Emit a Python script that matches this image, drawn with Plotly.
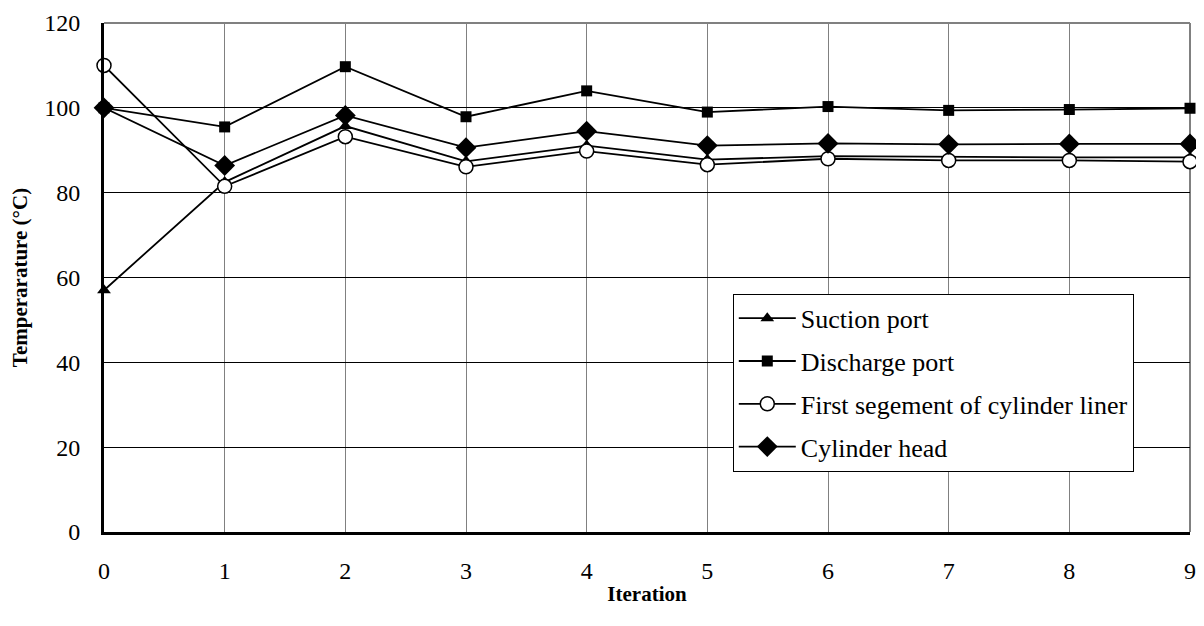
import plotly.graph_objects as go

iterations = [0, 1, 2, 3, 4, 5, 6, 7, 8, 9]
suction_port = [57, 82.5, 95.7, 87.4, 91.1, 87.8, 88.6, 88.4, 88.3, 88.3]
discharge_port = [100, 95.5, 109.7, 97.9, 104.0, 99.0, 100.3, 99.4, 99.6, 99.9]
first_segment = [110, 81.5, 93.2, 86.1, 89.8, 86.6, 88.0, 87.6, 87.6, 87.3]
cylinder_head = [100, 86.4, 98.2, 90.6, 94.5, 91.1, 91.6, 91.4, 91.5, 91.5]

x_ticks = list(range(0, 10))
y_ticks = [0, 20, 40, 60, 80, 100, 120]

FONT = "Liberation Serif"

fig = go.Figure()
series = [
    ("Suction port", suction_port, dict(symbol="triangle-up", size=12, color="black")),
    ("Discharge port", discharge_port, dict(symbol="square", size=11, color="black")),
    ("First segement of cylinder liner", first_segment,
     dict(symbol="circle", size=14, color="white", line=dict(color="black", width=1.5))),
    ("Cylinder head", cylinder_head, dict(symbol="diamond", size=16, color="black")),
]
for i, (name, vals, marker) in enumerate(series):
    fig.add_trace(go.Scatter(
        x=iterations, y=vals, name=name, mode="lines+markers", legendgroup=f"g{i}",
        line=dict(color="black", width=1.8), marker=marker, cliponaxis=False,
    ))

fig.update_layout(
    width=1196, height=618,
    margin=dict(l=96, r=14, t=15, b=94, autoexpand=False),
    paper_bgcolor="white", plot_bgcolor="white",
    font=dict(family=FONT, color="black", size=24),
    showlegend=True,
    legend=dict(
        x=0.579, y=0.468, xanchor="left", yanchor="top",
        bgcolor="white", bordercolor="black", borderwidth=1,
        font=dict(family=FONT, size=26, color="black"),
        tracegroupgap=6, itemwidth=57,
    ),
    xaxis=dict(
        range=[0, 9], tickvals=x_ticks, ticktext=[str(v) for v in x_ticks],
        showgrid=True, gridcolor="#808080", gridwidth=1,
        showline=True, linecolor="black", linewidth=3,
        zeroline=False, ticks="", ticklabelstandoff=15, automargin=False,
        tickfont=dict(family=FONT, size=24),
        title=dict(text="<b>Iteration</b>", font=dict(family=FONT, size=21), standoff=4),
    ),
    yaxis=dict(
        range=[0, 120], tickvals=y_ticks,
        showgrid=True, gridcolor="black", gridwidth=1,
        showline=True, linecolor="black", linewidth=3,
        zeroline=False, ticks="", ticklabelstandoff=16, automargin=False,
        tickfont=dict(family=FONT, size=24),
        title=dict(text="<b>Temperarature (°C)</b>", font=dict(family=FONT, size=21), standoff=16),
    ),
    shapes=[
        dict(type="line", xref="paper", yref="paper", x0=0, x1=1, y0=1, y1=1,
             line=dict(color="#808080", width=2), layer="below"),
        dict(type="line", xref="paper", yref="paper", x0=1, x1=1, y0=0, y1=1,
             line=dict(color="#808080", width=2), layer="below"),
    ],
)

fig.write_html("out.html")
